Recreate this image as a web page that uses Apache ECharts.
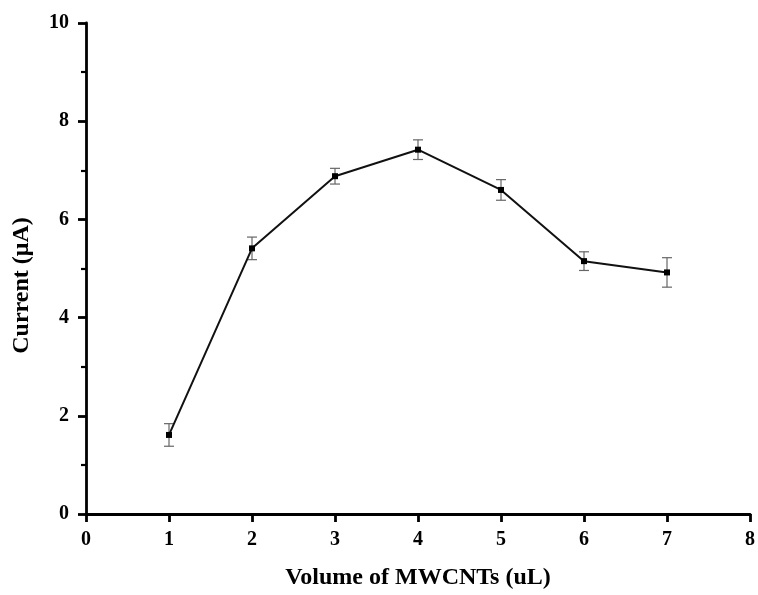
<!DOCTYPE html>
<html>
<head>
<meta charset="utf-8">
<script src="https://cdn.jsdelivr.net/npm/echarts@6/dist/echarts.min.js"></script>
<style>
  html, body { margin: 0; padding: 0; background: #fff; }
  #chart-container { width: 758px; height: 595px; }
</style>
</head>
<body>
<div id="chart-container"></div>
<script>
// datos
const volumenes = [1, 2, 3, 4, 5, 6, 7];
const corrientes = [1.61, 5.41, 6.88, 7.42, 6.60, 5.15, 4.92];
const errores = [0.23, 0.23, 0.16, 0.20, 0.21, 0.19, 0.30];

const fuente = '"Liberation Serif", "Times New Roman", serif';

let myChart = echarts.init(document.getElementById('chart-container'), null, {
  renderer: 'canvas',
  useDirtyRect: false
});

const puntos = volumenes.map((v, i) => [v, corrientes[i]]);
const barras = volumenes.map((v, i) => [v, corrientes[i] - errores[i], corrientes[i] + errores[i]]);

// barras de error con caps
function dibujarError(params, api) {
  const x = api.value(0);
  const bajo = api.coord([x, api.value(1)]);
  const alto = api.coord([x, api.value(2)]);
  const cap = 5;
  const estilo = { stroke: '#666', lineWidth: 1.2 };
  return {
    type: 'group',
    children: [
      { type: 'line', shape: { x1: bajo[0], y1: bajo[1], x2: alto[0], y2: alto[1] }, style: estilo },
      { type: 'line', shape: { x1: alto[0] - cap, y1: alto[1], x2: alto[0] + cap, y2: alto[1] }, style: estilo },
      { type: 'line', shape: { x1: bajo[0] - cap, y1: bajo[1], x2: bajo[0] + cap, y2: bajo[1] }, style: estilo }
    ]
  };
}

const opciones = {
  backgroundColor: '#fff',
  animation: false,
  grid: { left: 86, right: 6, top: 23, bottom: 79 },
  xAxis: {
    type: 'value',
    min: 0,
    max: 8,
    interval: 1,
    name: 'Volume of MWCNTs (uL)',
    nameLocation: 'middle',
    nameGap: 52,
    nameTextStyle: { fontFamily: fuente, fontWeight: 'bold', fontSize: 24, color: '#000' },
    axisLine: { lineStyle: { color: '#000', width: 2.8 } },
    axisTick: { length: 8, lineStyle: { color: '#000', width: 2.8 } },
    axisLabel: { margin: 16, fontFamily: fuente, fontWeight: 'bold', fontSize: 20, color: '#000' },
    splitLine: { show: false }
  },
  yAxis: {
    type: 'value',
    min: 0,
    max: 10,
    interval: 2,
    name: 'Current (μA)',
    nameLocation: 'middle',
    nameGap: 52,
    nameTextStyle: { fontFamily: fuente, fontWeight: 'bold', fontSize: 24, color: '#000', padding: [0, 34, 0, 0] },
    axisLine: { show: true, lineStyle: { color: '#000', width: 2.8 } },
    axisTick: { length: 8, lineStyle: { color: '#000', width: 2.8 } },
    minorTick: { show: true, splitNumber: 2, length: 5, lineStyle: { color: '#000', width: 2.2 } },
    axisLabel: { margin: 17, fontFamily: fuente, fontWeight: 'bold', fontSize: 20, color: '#000' },
    splitLine: { show: false }
  },
  series: [
    {
      type: 'custom',
      renderItem: dibujarError,
      data: barras,
      encode: { x: 0, y: [1, 2] },
      z: 1
    },
    {
      type: 'line',
      data: puntos,
      symbol: 'rect',
      symbolSize: 6,
      lineStyle: { color: '#111', width: 2 },
      itemStyle: { color: '#000' },
      z: 2
    }
  ]
};

myChart.setOption(opciones, true);
window.addEventListener('resize', myChart.resize);
</script>
</body>
</html>
